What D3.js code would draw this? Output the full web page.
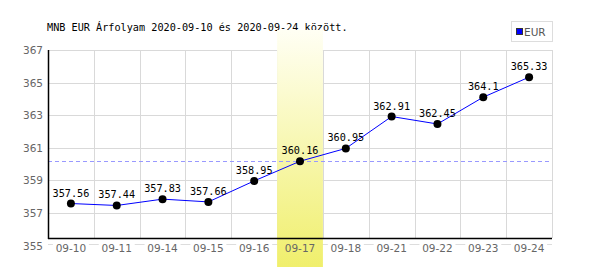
<!DOCTYPE html>
<html>
<head>
<meta charset="utf-8">
<script src="https://cdn.jsdelivr.net/npm/d3@7/dist/d3.min.js"></script>
<style>
body { margin: 0; background: #fff; }
</style>
</head>
<body>
<div id="chart"></div>
<script>
/* Data */
var title = "MNB EUR Árfolyam 2020-09-10 és 2020-09-24 között.";
var seriesName = "EUR";
var days = ["09-10", "09-11", "09-14", "09-15", "09-16", "09-17", "09-18", "09-21", "09-22", "09-23", "09-24"];
var rates = [357.56, 357.44, 357.83, 357.66, 358.95, 360.16, 360.95, 362.91, 362.45, 364.1, 365.33];
var yTicks = [357, 359, 361, 363, 365, 367];
var yMin = 355.44;          // bottom of the axis, printed rounded
var yMinLabel = "355";
var highlightDay = "09-17";
var refRate = 360.16;       // dashed reference line

// dimensions
var width = 600, height = 270;
var margin = { top: 50, right: 48, bottom: 32, left: 48 };
var plotBottom = height - margin.bottom;
var labelRow = 245;
var px = v => Math.round(v) + 0.5;

var svg = d3.select("#chart").append("svg")
  .attr("width", width)
  .attr("height", height);

var defs = svg.append("defs");
var grad = defs.append("linearGradient")
  .attr("id", "hl")
  .attr("x1", 0).attr("y1", 0).attr("x2", 0).attr("y2", 1);
grad.append("stop").attr("offset", "0%").attr("stop-color", "#fffff4");
grad.append("stop").attr("offset", "100%").attr("stop-color", "#f0ef6c");

// scales
var x = d3.scaleBand().domain(days).range([margin.left, width - margin.right]);
var y = d3.scaleLinear().domain([yMin, d3.max(yTicks)]).range([plotBottom, margin.top]);

// title
svg.append("text")
  .attr("x", 47).attr("y", 31)
  .style("font-family", "DejaVu Sans Mono")
  .style("font-size", "10.2px")
  .attr("fill", "#000")
  .text(title);

// legend
var lg = svg.append("g");
lg.append("rect")
  .attr("x", 511.5).attr("y", 21.5).attr("width", 41).attr("height", 20)
  .attr("fill", "#fff").attr("stroke", "#ddd");
lg.append("rect")
  .attr("x", 516.5).attr("y", 28.5).attr("width", 6).attr("height", 6)
  .attr("fill", "#0000ff").attr("stroke", "#333");
lg.append("text")
  .attr("x", 524).attr("y", 36)
  .style("font-family", "DejaVu Sans")
  .style("font-size", "10.5px")
  .attr("fill", "#555")
  .text(seriesName);

// grey baseline under the x labels
svg.append("line")
  .attr("x1", margin.left).attr("x2", width - margin.right)
  .attr("y1", labelRow - 0.5).attr("y2", labelRow - 0.5)
  .attr("stroke", "#ddd");

// grid
var grid = svg.append("g").attr("stroke", "#d9d9d9").attr("stroke-width", 1);
grid.selectAll(".h").data(yTicks).join("line")
  .attr("x1", margin.left).attr("x2", width - margin.right)
  .attr("y1", d => px(y(d))).attr("y2", d => px(y(d)));
grid.selectAll(".v").data(days).join("line")
  .attr("x1", d => px(x(d) + x.bandwidth())).attr("x2", d => px(x(d) + x.bandwidth()))
  .attr("y1", y(d3.max(yTicks))).attr("y2", plotBottom);

// x labels background
svg.append("g").selectAll("rect").data(days).join("rect")
  .attr("x", d => x(d) + x.bandwidth() / 2 - 18)
  .attr("y", labelRow - 3)
  .attr("width", 36).attr("height", 12)
  .attr("fill", "#fff");

// highlight band
svg.append("rect")
  .attr("x", x(highlightDay)).attr("y", 30)
  .attr("width", x.bandwidth()).attr("height", 237)
  .attr("fill", "url(#hl)");

// reference line
svg.append("line")
  .attr("x1", margin.left).attr("x2", width - margin.right)
  .attr("y1", px(y(refRate))).attr("y2", px(y(refRate)))
  .attr("stroke", "#9999ff")
  .attr("stroke-dasharray", "4,3");

// axes
svg.append("line")
  .attr("x1", margin.left + 0.5).attr("x2", margin.left + 0.5)
  .attr("y1", y(d3.max(yTicks))).attr("y2", plotBottom + 1)
  .attr("stroke", "#000").attr("stroke-width", 1.5);
svg.append("line")
  .attr("x1", margin.left).attr("x2", width - margin.right)
  .attr("y1", plotBottom + 0.5).attr("y2", plotBottom + 0.5)
  .attr("stroke", "#000").attr("stroke-width", 1.5);

// x labels
svg.append("g").selectAll("text").data(days).join("text")
  .attr("x", d => x(d) + x.bandwidth() / 2)
  .attr("y", labelRow + 7)
  .attr("text-anchor", "middle")
  .style("font-family", "DejaVu Sans")
  .style("font-size", "10.5px")
  .attr("fill", "#666")
  .text(d => d);

// y labels
var yLab = svg.append("g")
  .style("font-family", "DejaVu Sans")
  .style("font-size", "10.5px")
  .attr("fill", "#666")
  .attr("text-anchor", "end");
yLab.selectAll("text").data(yTicks).join("text")
  .attr("x", 43)
  .attr("y", d => y(d) + 4)
  .text(d => d);
yLab.append("text")
  .attr("x", 43).attr("y", labelRow + 5)
  .text(yMinLabel);

// line + points
var line = d3.line()
  .x((d, i) => x(days[i]) + x.bandwidth() / 2)
  .y(d => y(d));
svg.append("path")
  .attr("d", line(rates))
  .attr("fill", "none")
  .attr("stroke", "#0000ff")
  .attr("stroke-width", 1);

svg.append("g").selectAll("circle").data(rates).join("circle")
  .attr("cx", (d, i) => x(days[i]) + x.bandwidth() / 2)
  .attr("cy", d => y(d))
  .attr("r", 4)
  .attr("fill", "#000");

svg.append("g").selectAll("text").data(rates).join("text")
  .attr("x", (d, i) => x(days[i]) + x.bandwidth() / 2)
  .attr("y", d => y(d) - 7)
  .attr("text-anchor", "middle")
  .style("font-family", "DejaVu Sans Mono")
  .style("font-size", "10.2px")
  .attr("fill", "#000")
  .text(d => d);
</script>
</body>
</html>
